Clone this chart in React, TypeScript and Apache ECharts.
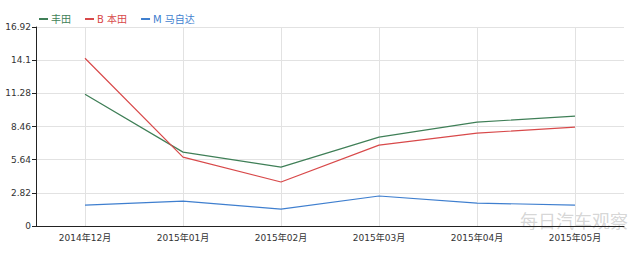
import React, { useEffect, useRef } from "react";
import * as echarts from "echarts";

const categories = ["2014年12月", "2015年01月", "2015年02月", "2015年03月", "2015年04月", "2015年05月"];
const toyota = [11.21, 6.28, 5.01, 7.56, 8.83, 9.34];
const honda = [14.26, 5.86, 3.74, 6.88, 7.9, 8.4];
const mazda = [1.78, 2.12, 1.44, 2.55, 1.95, 1.78];
const seriesNames = ["丰田", "B 本田", "M 马自达"];
const colors = ["#3f7f57", "#d8494a", "#3f7fcf"];

export default function App() {
  const ref = useRef<HTMLDivElement>(null);
  useEffect(() => {
    document.body.style.margin = "0";
    const chart = echarts.init(ref.current!, null, { renderer: "svg" });
    const font = "DejaVu Sans, Noto Sans CJK SC, sans-serif";
    chart.setOption({
      animation: false,
      textStyle: { fontFamily: font },
      legend: {
        left: 34,
        top: 9,
        itemWidth: 9,
        itemHeight: 2,
        itemGap: 14,
        icon: "rect",
        textStyle: { fontSize: 10, fontFamily: font, padding: [0, 0, 0, -2] },
        data: seriesNames.map((n, i) => ({ name: n, textStyle: { color: colors[i] } })),
      },
      grid: { left: 36, right: 16, top: 27, bottom: 29, containLabel: false },
      xAxis: {
        type: "category",
        data: categories,
        boundaryGap: true,
        axisLine: { lineStyle: { color: "#222", width: 1 } },
        axisTick: { alignWithLabel: true, length: 4, lineStyle: { color: "#222" } },
        axisLabel: { color: "#333", fontSize: 9, margin: 7, interval: 0 },
        splitLine: { show: true, interval: 0, alignWithLabel: true, lineStyle: { color: "#e2e2e2" } },
      },
      yAxis: {
        type: "value",
        min: 0,
        max: 16.92,
        interval: 2.82,
        axisLine: { show: true, lineStyle: { color: "#222", width: 1 } },
        axisTick: { show: true, length: 4, lineStyle: { color: "#222" } },
        axisLabel: {
          color: "#333",
          fontSize: 9,
          margin: 5,
          formatter: (v: number) => String(+v.toFixed(2)),
        },
        splitLine: { lineStyle: { color: "#e2e2e2" } },
      },
      series: [toyota, honda, mazda].map((d, i) => ({
        name: seriesNames[i],
        type: "line",
        data: d,
        symbol: "none",
        lineStyle: { width: 1.2, color: colors[i] },
        itemStyle: { color: colors[i] },
      })),
      graphic: [
        {
          type: "text",
          right: 12,
          top: 211,
          style: {
            text: "每日汽车观察",
            fill: "rgba(150,150,150,0.4)",
            fontSize: 18,
            fontFamily: "Noto Sans CJK SC, sans-serif",
          },
        },
      ],
    });
    return () => chart.dispose();
  }, []);
  return <div ref={ref} style={{ width: 640, height: 255 }} />;
}
